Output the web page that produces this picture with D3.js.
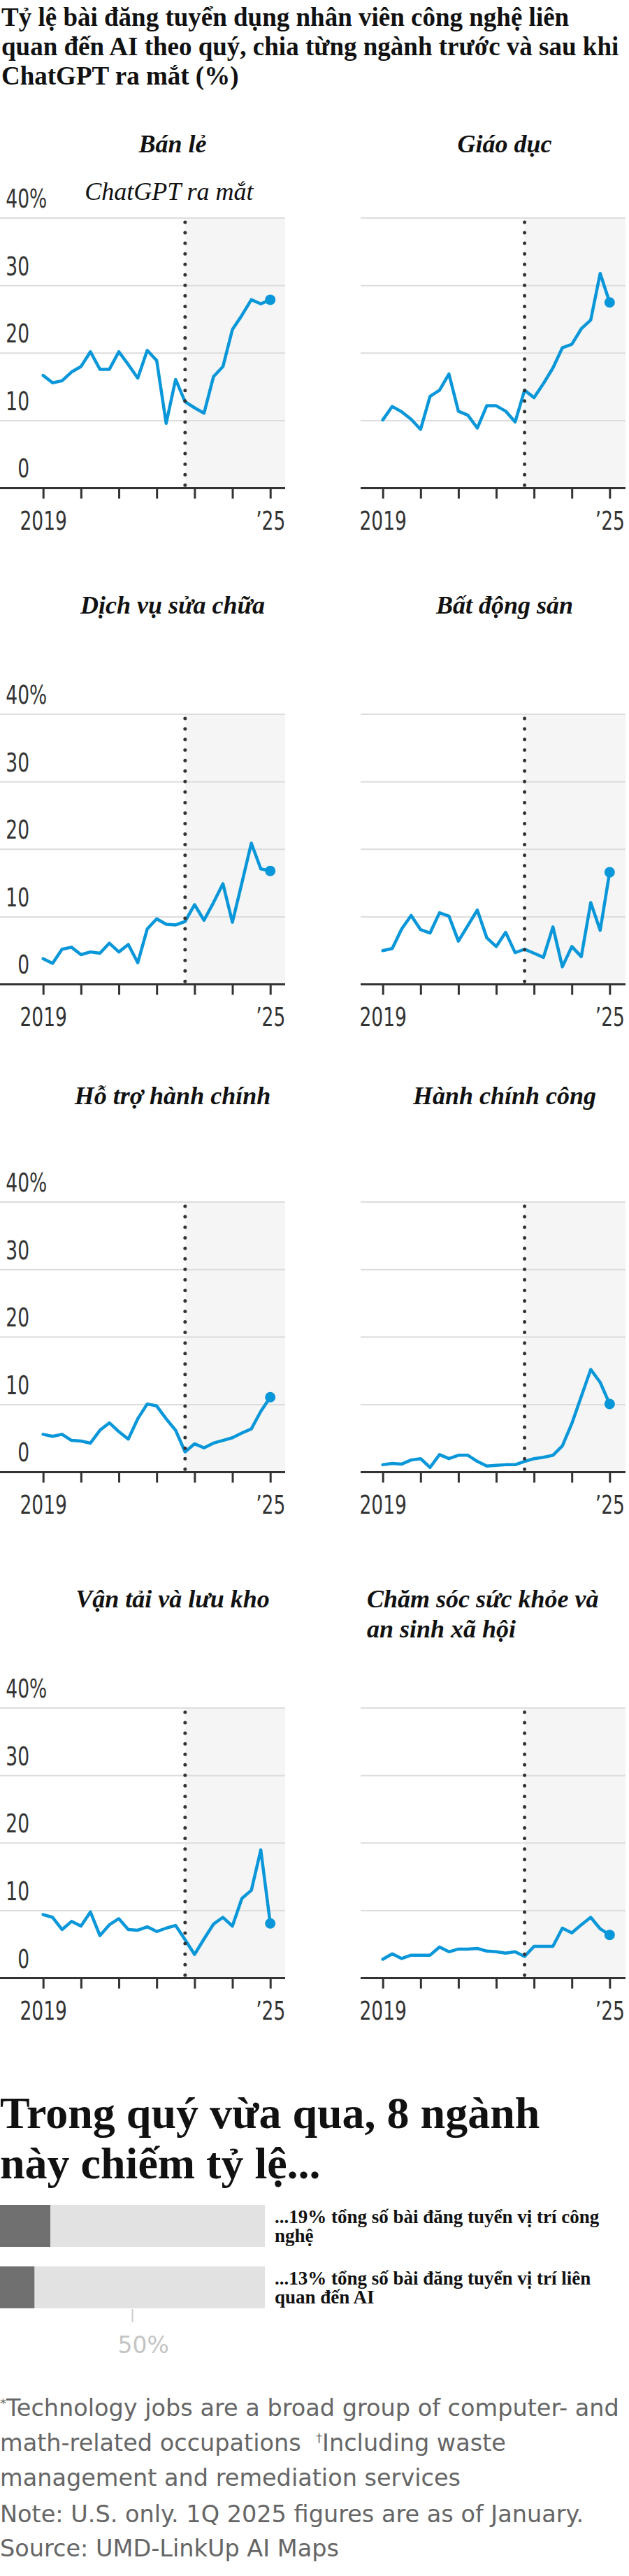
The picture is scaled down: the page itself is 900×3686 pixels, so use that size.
<!DOCTYPE html>
<html>
<head>
<meta charset="utf-8">
<script src="https://cdn.jsdelivr.net/npm/d3@7"></script>
<style>
  body { margin: 0; background: #fff; }
  svg { display: block; }
</style>
</head>
<body>
<svg id="chart" width="900" height="3686"></svg>
<script>
// ---------------- DATA ----------------
const titleLines = [
  "Tỷ lệ bài đăng tuyển dụng nhân viên công nghệ liên",
  "quan đến AI theo quý, chia từng ngành trước và sau khi",
  "ChatGPT ra mắt (%)"
];
const quarters = [
  "2019Q1","2019Q2","2019Q3","2019Q4",
  "2020Q1","2020Q2","2020Q3","2020Q4",
  "2021Q1","2021Q2","2021Q3","2021Q4",
  "2022Q1","2022Q2","2022Q3","2022Q4",
  "2023Q1","2023Q2","2023Q3","2023Q4",
  "2024Q1","2024Q2","2024Q3","2024Q4",
  "2025Q1"
];
const chatgptQuarter = "2022Q4";
const chatgptLabel = "ChatGPT ra mắt";
const industries = [
  ["Bán lẻ"],
  ["Giáo dục"],
  ["Dịch vụ sửa chữa"],
  ["Bất động sản"],
  ["Hỗ trợ hành chính"],
  ["Hành chính công"],
  ["Vận tải và lưu kho"],
  ["Chăm sóc sức khỏe và", "an sinh xã hội"]
];
const retail       = [16.7,15.6,15.9,17.2,18.0,20.2,17.6,17.6,20.2,18.3,16.3,20.4,18.9,9.6,16.1,12.8,11.9,11.1,16.5,18.0,23.5,25.6,27.9,27.3,27.9];
const education    = [10.1,12.1,11.3,10.2,8.7,13.6,14.5,16.9,11.4,10.8,8.9,12.2,12.2,11.4,9.8,14.5,13.4,15.5,17.8,20.8,21.3,23.6,24.9,31.8,27.5];
const repair       = [3.8,3.1,5.2,5.5,4.4,4.8,4.6,6.1,4.8,5.9,3.2,8.2,9.7,8.9,8.8,9.3,11.8,9.5,12.1,14.9,9.2,15.0,20.9,17.1,16.8];
const realEstate   = [5.0,5.3,8.2,10.2,8.1,7.6,10.6,10.1,6.4,8.7,11.0,6.9,5.6,7.7,4.7,5.2,4.6,4.0,8.5,2.6,5.6,4.1,12.1,8.0,16.6];
const adminSupport = [5.6,5.3,5.6,4.7,4.6,4.3,6.2,7.3,6.0,4.9,7.9,10.1,9.8,7.9,6.2,3.0,4.2,3.6,4.3,4.7,5.1,5.8,6.4,9.0,11.1];
const publicAdmin  = [1.1,1.3,1.2,1.8,2.0,0.7,2.6,2.0,2.5,2.5,1.6,0.9,1.0,1.1,1.1,1.6,2.0,2.2,2.5,3.9,7.2,11.2,15.2,13.3,10.1];
const transport    = [9.4,9.0,7.2,8.4,7.7,9.8,6.3,7.9,8.8,7.2,7.1,7.6,6.9,7.4,7.8,5.7,3.5,5.8,8.0,9.0,7.7,11.8,13.0,19.0,8.1];
const healthcare   = [2.8,3.6,2.9,3.4,3.4,3.4,4.6,3.9,4.3,4.3,4.4,4.0,3.9,3.7,3.9,3.2,4.7,4.7,4.7,7.4,6.7,7.9,9.0,7.3,6.4];
const seriesList = [retail, education, repair, realEstate, adminSupport, publicAdmin, transport, healthcare];

const yTicks = [0, 10, 20, 30, 40];
const xTickQuarters = ["2019Q1","2020Q1","2021Q1","2022Q1","2023Q1","2024Q1","2025Q1"];
const xTickLabels  = ["2019","","","","","","’25"];

const shareHeading = ["Trong quý vừa qua, 8 ngành", "này chiếm tỷ lệ..."];
const shareValues = [19, 13];
const shareLabels = [
  ["...19% tổng số bài đăng tuyển vị trí công", "nghệ"],
  ["...13% tổng số bài đăng tuyển vị trí liên", "quan đến AI"]
];
const shareTick = 50;

const footLines = [
  [["*", true], ["Technology jobs are a broad group of computer- and", false]],
  [["math-related occupations\u00a0\u00a0", false], ["†", true], ["Including waste", false]],
  [["management and remediation services", false]],
  [["Note: U.S. only. 1Q 2025 figures are as of January.", false]],
  [["Source: UMD-LinkUp AI Maps", false]]
];

// ---------------- STYLE / LAYOUT ----------------
const SERIF = "'Liberation Serif','Times New Roman',serif";
const NARROW = "'Liberation Sans Narrow','Arial Narrow','DejaVu Sans Condensed',sans-serif";
const SANS = "'DejaVu Sans','Noto Sans',sans-serif";
const BLUE = "#0a97d9";

const svg = d3.select("#chart");

// narrow font fallback check
const probe = svg.append("text").attr("font-family", NARROW).attr("font-size", 100).text("0000");
const probeW = probe.node().getComputedTextLength();
probe.remove();
const narrowFactor = probeW > 4 * 100 * 0.5 ? (4 * 100 * 0.456) / probeW : 1;
function squeeze(sel, anchorX) {
  if (narrowFactor === 1) return;
  sel.attr("transform", `translate(${anchorX},0) scale(${narrowFactor},1) translate(${-anchorX},0)`);
}

// Title
svg.append("text")
  .attr("font-family", SERIF).attr("font-weight", 700).attr("font-size", 37).attr("fill", "#111")
  .selectAll("tspan").data(titleLines).join("tspan")
  .attr("x", 2).attr("y", (d, i) => 37 + i * 42).text(d => d);

const cols = [
  { gx0: 0,   gx1: 408, x0: 61.7,  x1: 386.7, titleX: 247 },
  { gx0: 516, gx1: 895, x0: 547.7, x1: 872.3, titleX: 722 }
];
const rowGridTop = [312, 1022, 1720, 2444];
const rowTitleY  = [217.5, 878, 1580, 2300];
const plotH = 386.5;

industries.forEach((titleParts, k) => {
  const r = Math.floor(k / 2), c = k % 2, col = cols[c];
  const vals = seriesList[k];
  const g = svg.append("g");
  const x = d3.scaleLinear().domain([0, quarters.length - 1]).range([col.x0, col.x1]);
  const y = d3.scaleLinear().domain([0, 40]).range([rowGridTop[r] + plotH, rowGridTop[r]]);
  const cx = x(quarters.indexOf(chatgptQuarter));

  // panel title
  const multi = titleParts.length > 1;
  g.append("text")
    .attr("font-family", SERIF).attr("font-weight", 700).attr("font-style", "italic")
    .attr("font-size", 36).attr("fill", "#111")
    .attr("text-anchor", multi ? "start" : "middle")
    .selectAll("tspan").data(titleParts).join("tspan")
    .attr("x", multi ? col.gx0 + 9 : col.titleX)
    .attr("y", (d, i) => rowTitleY[r] + i * 42.5)
    .text(d => d);

  // shaded post-ChatGPT region
  g.append("rect")
    .attr("x", cx).attr("y", y(40))
    .attr("width", col.gx1 - cx).attr("height", y(0) - y(40))
    .attr("fill", "#f5f5f5");

  // gridlines
  g.selectAll("line.grid").data(yTicks.filter(t => t > 0)).join("line")
    .attr("class", "grid")
    .attr("x1", col.gx0).attr("x2", col.gx1)
    .attr("y1", d => y(d)).attr("y2", d => y(d))
    .attr("stroke", "#dddddd").attr("stroke-width", 2);

  // y labels (left column only)
  if (c === 0) {
    const lx = 42;
    yTicks.forEach(t => {
      const tx = g.append("text")
        .attr("font-family", NARROW).attr("font-size", 37).attr("fill", "#333")
        .attr("x", lx).attr("y", y(t) - 15).attr("text-anchor", "end")
        .text(t);
      squeeze(tx, lx);
      if (t === 40) {
        const pc = g.append("text")
          .attr("font-family", NARROW).attr("font-size", 37).attr("fill", "#333")
          .attr("x", lx).attr("y", y(t) - 15).attr("text-anchor", "start")
          .text("%");
        squeeze(pc, lx);
      }
    });
  }

  // x axis line
  g.append("line")
    .attr("x1", col.gx0).attr("x2", col.gx1)
    .attr("y1", y(0)).attr("y2", y(0))
    .attr("stroke", "#333").attr("stroke-width", 3);

  const axis = d3.axisBottom(x)
    .tickValues(xTickQuarters.map(q => quarters.indexOf(q)))
    .tickSize(15)
    .tickFormat((d, i) => xTickLabels[i]);
  const ax = g.append("g").attr("transform", `translate(0,${y(0)})`).call(axis);
  ax.select(".domain").remove();
  ax.selectAll(".tick line").attr("stroke", "#333").attr("stroke-width", 3);
  ax.selectAll(".tick text")
    .attr("font-family", NARROW).attr("font-size", 37).attr("fill", "#333")
    .attr("y", 60).attr("dy", 0);
  ax.selectAll(".tick text").each(function () {
    squeeze(d3.select(this), 0);
  });

  // data line
  const line = d3.line().x((d, i) => x(i)).y(d => y(d));
  g.append("path").datum(vals)
    .attr("d", line).attr("fill", "none")
    .attr("stroke", BLUE).attr("stroke-width", 4.5)
    .attr("stroke-linejoin", "round").attr("stroke-linecap", "round");

  // dotted ChatGPT line
  g.append("line")
    .attr("x1", cx).attr("x2", cx)
    .attr("y1", y(40) + 6).attr("y2", y(0) - 3)
    .attr("stroke", "#333").attr("stroke-width", 5)
    .attr("stroke-linecap", "round").attr("stroke-dasharray", "0 15.05");

  // end dot
  const li = vals.length - 1;
  g.append("circle").attr("cx", x(li)).attr("cy", y(vals[li])).attr("r", 7.5).attr("fill", BLUE);

  // annotation
  if (k === 0) {
    g.append("text")
      .attr("font-family", SERIF).attr("font-style", "italic").attr("font-size", 36).attr("fill", "#111")
      .attr("x", cx - 23).attr("y", rowGridTop[r] - 26).attr("text-anchor", "middle")
      .text(chatgptLabel);
  }
});

// ---------------- Share section ----------------
svg.append("text")
  .attr("font-family", SERIF).attr("font-weight", 700).attr("font-size", 64).attr("fill", "#111")
  .selectAll("tspan").data(shareHeading).join("tspan")
  .attr("x", 0).attr("y", (d, i) => 3045 + i * 72).text(d => d);

const bx = d3.scaleLinear().domain([0, 100]).range([0, 379]);
const by = d3.scaleBand().domain(d3.range(shareValues.length)).range([3155, 3303]).paddingInner(0.318).paddingOuter(0);

const bars = svg.append("g");
shareValues.forEach((v, i) => {
  bars.append("rect").attr("x", bx(0)).attr("y", by(i)).attr("width", bx(100) - bx(0)).attr("height", by.bandwidth()).attr("fill", "#e2e2e3");
  bars.append("rect").attr("x", bx(0)).attr("y", by(i)).attr("width", bx(v) - bx(0)).attr("height", by.bandwidth()).attr("fill", "#707070");
  bars.append("text")
    .attr("font-family", SERIF).attr("font-weight", 700).attr("font-size", 27).attr("fill", "#111")
    .selectAll("tspan").data(shareLabels[i]).join("tspan")
    .attr("x", bx(100) + 14).attr("y", (d, j) => by(i) + 26 + j * 27.3).text(d => d);
});
// 50% tick
const t50 = bx(shareTick);
bars.append("line").attr("x1", t50).attr("x2", t50).attr("y1", 3304).attr("y2", 3323).attr("stroke", "#cccccc").attr("stroke-width", 2);
const lab50 = bars.append("text").attr("font-family", SANS).attr("font-size", 33).attr("fill", "#c4c4c4")
  .attr("y", 3367).text(shareTick);
const w50 = lab50.node().getComputedTextLength();
lab50.attr("x", t50 - w50 / 2);
bars.append("text").attr("font-family", SANS).attr("font-size", 33).attr("fill", "#c4c4c4")
  .attr("x", t50 + w50 / 2).attr("y", 3367).text("%");

// ---------------- Footnotes ----------------
const footY = [3457, 3507, 3557, 3609, 3658];
footLines.forEach((parts, i) => {
  const t = svg.append("text").attr("font-family", SANS).attr("font-size", 33.5).attr("fill", "#666")
    .attr("x", 0).attr("y", footY[i]);
  parts.forEach(([s, sup], j) => {
    const ts = t.append("tspan").text(s);
    if (sup) ts.attr("font-size", 18).attr("dy", -12);
    else ts.attr("dy", (j > 0 && parts[j - 1][1]) ? 12 : 0);
  });
});
</script>
</body>
</html>
